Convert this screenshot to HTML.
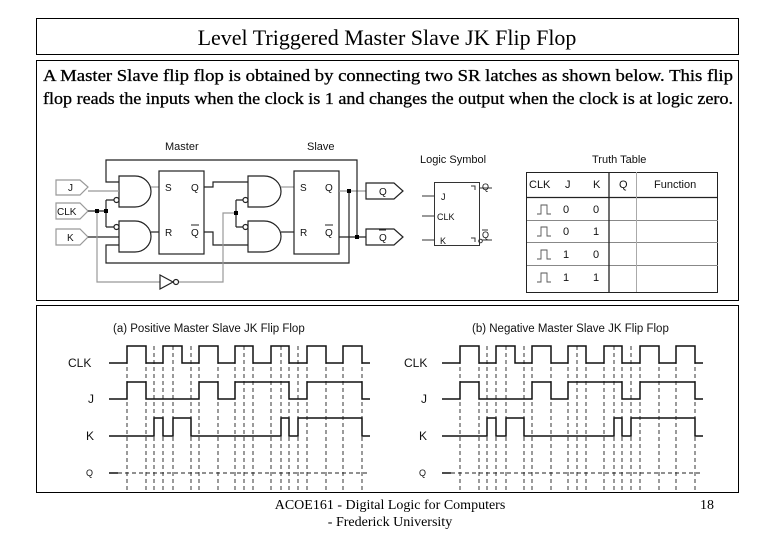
<!DOCTYPE html>
<html><head><meta charset="utf-8"><style>
html,body{margin:0;padding:0;background:#fff;}
svg{display:block;}
.s{font-family:"Liberation Sans",sans-serif;fill:#111;}
.t{font-family:"Liberation Serif",serif;fill:#000;}
</style></head><body>
<svg width="780" height="540" viewBox="0 0 780 540" xmlns="http://www.w3.org/2000/svg">
<rect width="780" height="540" fill="#fff"/>
<rect x="36.5" y="18.5" width="702" height="36" fill="none" stroke="#000"/>
<rect x="36.5" y="60.5" width="702" height="240" fill="none" stroke="#000"/>
<rect x="36.5" y="305.5" width="702" height="187" fill="none" stroke="#000"/>
<text class="t" x="387" y="45" font-size="22" text-anchor="middle">Level Triggered Master Slave JK Flip Flop</text>
<text class="t" x="43" y="81" font-size="16.5" stroke="#000" stroke-width="0.3" textLength="690" lengthAdjust="spacingAndGlyphs">A Master Slave flip flop is obtained by connecting two SR latches as shown below. This flip</text>
<text class="t" x="43" y="104" font-size="16.5" stroke="#000" stroke-width="0.3" textLength="690" lengthAdjust="spacingAndGlyphs">flop reads the inputs when the clock is 1 and changes the output when the clock is at logic zero.</text>

<g fill="none" stroke="#222" stroke-width="1.2">
<text class="s" x="165" y="150" font-size="11" stroke="none">Master</text>
<text class="s" x="307" y="150" font-size="11" stroke="none">Slave</text>
<path d="M56,180 H80 L88,187 L80,195 H56 Z" stroke="#999"/>
<path d="M56,203 H80 L88,211 L80,219 H56 Z" stroke="#999"/>
<path d="M56,229 H80 L88,237 L80,245 H56 Z" stroke="#999"/>
<text class="s" x="68" y="191" font-size="10" stroke="none">J</text>
<text class="s" x="57" y="215" font-size="10" stroke="none">CLK</text>
<text class="s" x="67" y="241" font-size="10" stroke="none">K</text>
<path d="M119,176 H135 A16,15.5 0 0 1 135,207 H119 Z"/>
<path d="M119,221 H135 A16,15.5 0 0 1 135,252 H119 Z"/>
<circle cx="116.5" cy="200" r="2.5"/>
<circle cx="116.5" cy="227" r="2.5"/>
<path d="M88,191 H119" stroke="#999"/>
<path d="M88,237 H119"/>
<path d="M88,211 H106 M106,200 H114 M106,227 H114 M106,200 V227"/>
<path d="M151,187 H159" stroke="#999"/>
<path d="M151,232 H159"/>
<rect x="159" y="171" width="45" height="83"/>
<text class="s" x="165" y="191" font-size="10" stroke="none">S</text>
<text class="s" x="191" y="191" font-size="10" stroke="none">Q</text>
<text class="s" x="165" y="236" font-size="10" stroke="none">R</text>
<text class="s" x="191" y="236" font-size="10" stroke="none">Q</text>
<path d="M191,225 H199" stroke-width="1"/>
<path d="M204,187 H213 V182 H248"/>
<path d="M204,232 H213 V245 H248"/>
<path d="M248,176 H264 A17,15.5 0 0 1 264,207 H248 Z"/>
<path d="M248,221 H264 A17,15.5 0 0 1 264,252 H248 Z"/>
<circle cx="245.5" cy="200" r="2.5"/>
<circle cx="245.5" cy="227" r="2.5"/>
<path d="M236,200 H243 M236,227 H243 M236,200 V227"/>
<path d="M281,187 H294" stroke="#999"/>
<path d="M281,232 H294"/>
<rect x="294" y="171" width="45" height="83"/>
<text class="s" x="300" y="191" font-size="10" stroke="none">S</text>
<text class="s" x="325" y="191" font-size="10" stroke="none">Q</text>
<text class="s" x="300" y="236" font-size="10" stroke="none">R</text>
<text class="s" x="325" y="236" font-size="10" stroke="none">Q</text>
<path d="M325,225 H333" stroke-width="1"/>
<path d="M339,191 H366" stroke="#999"/>
<path d="M339,237 H366"/>
<path d="M366,183 H394 L403,191 L394,199 H366 Z"/>
<path d="M366,229 H394 L403,237 L394,245 H366 Z"/>
<text class="s" x="379" y="195" font-size="10" stroke="none">Q</text>
<text class="s" x="379" y="241" font-size="10" stroke="none">Q</text>
<path d="M379,230 H386" stroke-width="1"/>
<path d="M119,182 H106 V160 H357 V237"/>
<path d="M119,245 H106 V263 H349 V191"/>
<path d="M97,211 V282 H160" stroke="#999"/>
<path d="M160,275 L173,282 L160,289 Z"/>
<circle cx="176" cy="282" r="2.5"/>
<path d="M179,282 H223 V213 H236" stroke="#999"/>
</g>
<g fill="#000">
<rect x="95" y="209" width="4" height="4"/><rect x="104" y="209" width="4" height="4"/>
<rect x="234" y="211" width="4" height="4"/>
<rect x="347" y="189" width="4" height="4"/><rect x="355" y="235" width="4" height="4"/>
</g>

<text class="s" x="420" y="163" font-size="11">Logic Symbol</text>
<g fill="none" stroke="#333" stroke-width="1">
<rect x="434.5" y="182.5" width="45" height="63"/>
<path d="M422,196 H434 M422,216 H434 M422,240 H434 M479,188 H492 M482,240 H492 M471,186 H475 V190 M471,238 H475 V242"/>
<circle cx="480.5" cy="241" r="1.8"/>
</g>
<text class="s" x="441" y="200" font-size="9">J</text>
<text class="s" x="437" y="220" font-size="9">CLK</text>
<text class="s" x="440" y="244" font-size="9">K</text>
<text class="s" x="482" y="190" font-size="9">Q</text>
<text class="s" x="482" y="238" font-size="9">Q</text>
<path d="M482,230 H488" stroke="#333"/>

<text class="s" x="592" y="163" font-size="11">Truth Table</text>
<g fill="none" stroke="#222">
<rect x="526.5" y="172.5" width="191" height="120"/>
<path d="M527,197.5 H718" stroke-width="1.2"/>
<path d="M527,220.5 H718 M527,242.5 H718 M527,265.5 H718" stroke="#888"/>
<path d="M609,172 V292" stroke-width="1.3"/>
<path d="M636.5,172 V292" stroke="#aaa"/>
</g>
<g class="s" font-size="11">
<text x="529" y="188">CLK</text><text x="565" y="188">J</text><text x="593" y="188">K</text>
<text x="619" y="188">Q</text><text x="654" y="188">Function</text>
<text x="563" y="213">0</text><text x="593" y="213">0</text>
<text x="563" y="235">0</text><text x="593" y="235">1</text>
<text x="563" y="258">1</text><text x="593" y="258">0</text>
<text x="563" y="281">1</text><text x="593" y="281">1</text>
</g>
<g fill="none" stroke="#555" stroke-width="0.9">
<path d="M537,214 H541 V205 H547 V214 H551"/>
<path d="M537,236 H541 V227 H547 V236 H551"/>
<path d="M537,259 H541 V250 H547 V259 H551"/>
<path d="M537,282 H541 V273 H547 V282 H551"/>
</g>

<text class="s" x="113" y="332" font-size="11.5">(a)   Positive Master Slave JK Flip Flop</text>
<text class="s" x="472" y="332" font-size="11.5">(b)   Negative Master Slave JK Flip Flop</text>
<g class="s" font-size="12">
<text x="68" y="367">CLK</text><text x="88" y="403">J</text><text x="86" y="440">K</text>
<text x="404" y="367">CLK</text><text x="421" y="403">J</text><text x="419" y="440">K</text>
</g>
<g class="s" font-size="9"><text x="86" y="476">Q</text><text x="419" y="476">Q</text></g>
<g id="wave">
<g fill="none" stroke="#222" stroke-width="0.9" stroke-dasharray="4,3">
<path d="M127,346V492M146,346V492M154,346V492M163,346V492M173,346V492M191,346V492M199,346V492M218,346V492M235,346V492M244,346V492M253,346V492M271,346V492M281,346V492M289,346V492M298,346V492M307,346V492M326,346V492M343,346V492M362,346V492"/>
<path d="M118,473 H370"/>
</g>
<g fill="none" stroke="#111" stroke-width="1.5">
<path d="M109,363 H127 V346 H146 V363 H163 V346 H182 V363 H199 V346 H218 V363 H235 V346 H253 V363 H271 V346 H289 V363 H307 V346 H326 V363 H343 V346 H362 V363 H370"/>
<path d="M109,399 H127 V382 H146 V399 H199 V382 H218 V399 H235 V382 H289 V399 H307 V382 H362 V399 H370"/>
<path d="M109,436 H154 V418 H163 V436 H173 V418 H191 V436 H281 V418 H289 V436 H298 V418 H362 V436 H370"/>
<path d="M109,473 H118"/>
</g>
</g>
<use href="#wave" transform="translate(333,0)"/>

<text class="t" x="390" y="509" font-size="14" text-anchor="middle">ACOE161 - Digital Logic for Computers</text>
<text class="t" x="390" y="526" font-size="14" text-anchor="middle">- Frederick University</text>
<text class="t" x="700" y="509" font-size="14">18</text>
</svg>
</body></html>
